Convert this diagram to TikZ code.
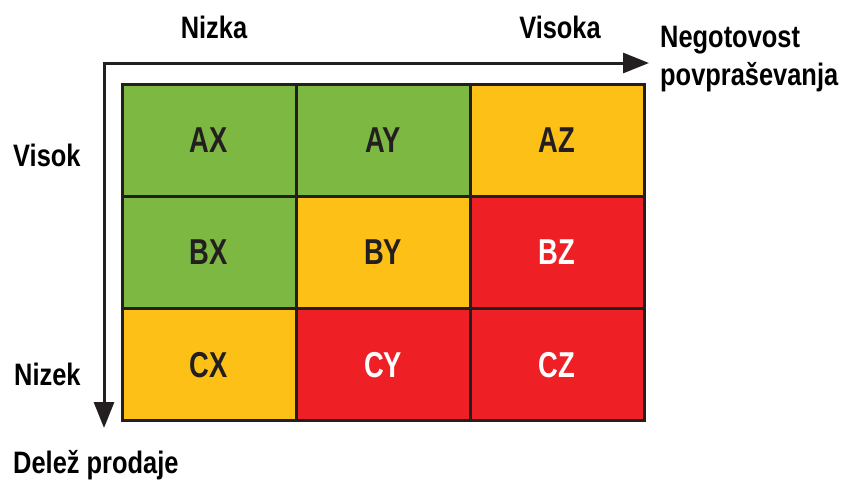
\documentclass[tikz,border=0pt]{standalone}
\usepackage{fontspec}
\setmainfont{Liberation Sans}[FakeStretch=0.82]
\newfontfamily\cellfont{Liberation Sans}[FakeStretch=0.76]
\usetikzlibrary{arrows.meta}
\definecolor{lowgreen}{HTML}{7DB843}
\definecolor{midamber}{HTML}{FCC016}
\definecolor{highred}{HTML}{EE1F25}
\definecolor{ink}{HTML}{231F20}
\tikzset{
  cell/.style={draw=ink, line width=3pt, minimum width=174pt, minimum height=112.3pt,
    inner sep=0pt, outer sep=0pt, font=\cellfont\bfseries\fontsize{36}{40}\selectfont},
  darktext/.style={text=ink},
  lighttext/.style={text=white},
  axis/.style={draw=ink, line width=3pt, -{Triangle[width=20pt,length=26pt]}},
  label/.style={font=\bfseries\fontsize{31}{38}\selectfont, text=black, inner sep=0pt},
}
\begin{document}
\begin{tikzpicture}[x=1pt,y=-1pt]
  \useasboundingbox (0,0) rectangle (848,480);
  % axes
  \coordinate (corner) at (104,63);
  \coordinate (xend) at (649,63);
  \coordinate (yend) at (104,428);
  \draw[axis] ([xshift=-1.5pt]corner) -- (xend);
  \draw[axis] ([yshift=1.5pt]corner) -- (yend);
  % matrix cells
  \node[cell, fill=lowgreen, darktext]  (AX) at (209,140.2) {AX};
  \node[cell, fill=lowgreen, darktext]  (AY) at (383,140.2) {AY};
  \node[cell, fill=midamber, darktext]  (AZ) at (557,140.2) {AZ};
  \node[cell, fill=lowgreen, darktext]  (BX) at (209,252.5) {BX};
  \node[cell, fill=midamber, darktext]  (BY) at (383,252.5) {BY};
  \node[cell, fill=highred, lighttext]  (BZ) at (557,252.5) {BZ};
  \node[cell, fill=midamber, darktext]  (CX) at (209,364.8) {CX};
  \node[cell, fill=highred, lighttext]  (CY) at (383,364.8) {CY};
  \node[cell, fill=highred, lighttext]  (CZ) at (557,364.8) {CZ};
  % axis labels
  \node[label, anchor=base] (nizka) at (214,38) {Nizka};
  \node[label, anchor=base] (visoka) at (560,38) {Visoka};
  \node[label, anchor=base west, align=left] (negot) at (660,47) {Negotovost};
  \node[label, anchor=base west] (povpr) at (660,85) {povpraševanja};
  \node[label, anchor=base west] (visok) at (13,166) {Visok};
  \node[label, anchor=base west] (nizek) at (14,385) {Nizek};
  \node[label, anchor=base west] (delez) at (13,473) {Delež prodaje};
\end{tikzpicture}
\end{document}
